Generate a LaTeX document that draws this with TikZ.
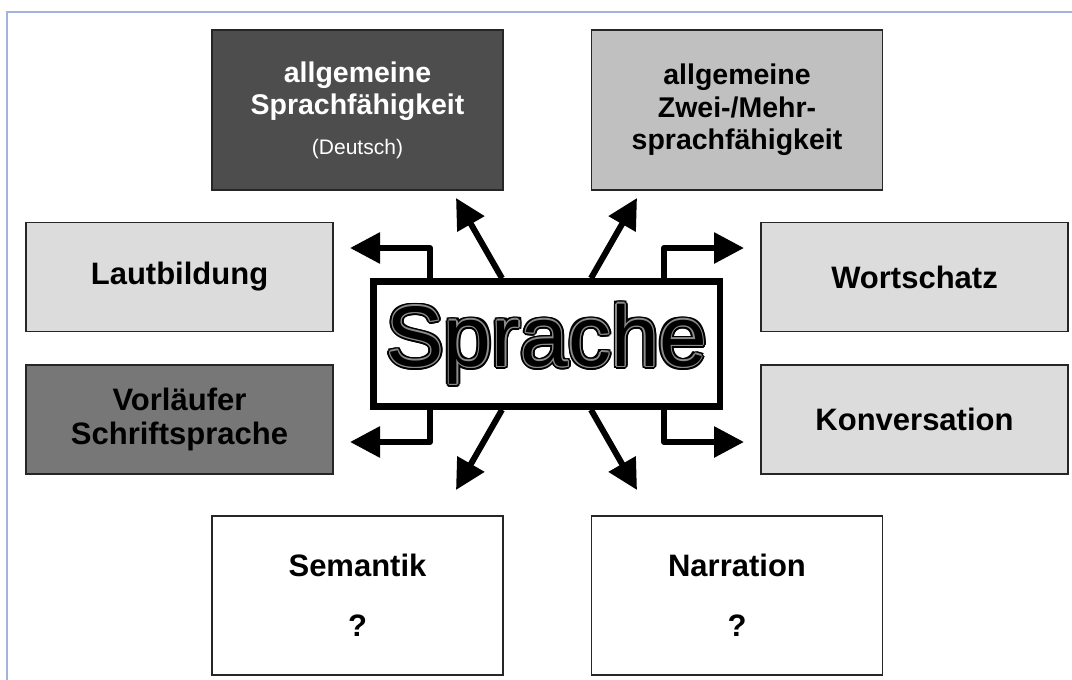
\documentclass[tikz,border=0pt]{standalone}
\usepackage{fontspec}
\setmainfont{Liberation Sans}
\usetikzlibrary{arrows.meta}
\definecolor{darkbox}{HTML}{4D4D4D}
\definecolor{midbox}{HTML}{C0C0C0}
\definecolor{lightbox}{HTML}{DCDCDC}
\definecolor{vorbox}{HTML}{777777}
\definecolor{framecol}{HTML}{A3B3DE}
\definecolor{rimgray}{HTML}{8C8C8C}
\newcommand\lab{\fontsize{31}{34}\selectfont\bfseries}
\newcommand\toplab{\fontsize{28.5}{32.5}\selectfont\bfseries}
\newcommand\sprword{%
\fontsize{86}{86}\selectfont
\foreach \a in {0,22.5,...,337.5}{\pgfmathsetmacro\dx{3.2*cos(\a)}\pgfmathsetmacro\dy{3.2*sin(\a)}\rlap{\hspace*{\dx pt}\raisebox{\dy pt}{\color{black}Sprache}}}%
\foreach \a in {0,45,...,315}{\pgfmathsetmacro\dx{1.3*cos(\a)}\pgfmathsetmacro\dy{1.3*sin(\a)}\rlap{\hspace*{\dx pt}\raisebox{\dy pt}{\color{rimgray}Sprache}}}%
{\color{black}Sprache}}
\begin{document}
\begin{tikzpicture}[x=1pt,y=-1pt,
  box/.style={draw=black!85, line width=1.2pt, inner sep=0pt, align=center, font=\lab},
  topbox/.style={box, minimum width=291pt, minimum height=160pt, font=\toplab},
  sidebox/.style={box, minimum width=307pt, minimum height=109pt},
  botbox/.style={box, minimum width=291pt, minimum height=159pt, fill=white},
  sprbox/.style={draw=black, line width=6.5pt, fill=white, inner sep=0pt, minimum width=346.5pt, minimum height=125pt},
  arr/.style={line width=6pt, line join=round, -{Triangle[length=30pt,width=30pt]}}]
\useasboundingbox (0,0) rectangle (1072,680);
\fill[white] (0,0) rectangle (1072,680);
\draw[framecol, line width=1.5pt] (7,680) -- (7,12) -- (1072,12);

% boxes
\node[topbox, fill=darkbox, text=white] (gen) at (357.5,110) {allgemeine\\Sprachfähigkeit\\[7pt]{\fontsize{21}{24}\selectfont\mdseries (Deutsch)}};
\node[topbox, fill=midbox] (zwei) at (737,110) {allgemeine\\Zwei-/Mehr-\\sprachfähigkeit};
\node[sidebox, fill=lightbox] (laut) at (179.5,277) {Lautbildung};
\node[sidebox, fill=vorbox] (vorl) at (179.5,419.5) {Vorläufer\\Schriftsprache};
\node[sidebox, fill=lightbox] (wort) at (914.5,277) {Wortschatz};
\node[sidebox, fill=lightbox] (konv) at (914.5,419.5) {Konversation};
\node[botbox] (sem) at (357.5,595.5) {Semantik\\[26pt]?};
\node[botbox] (narr) at (737,595.5) {Narration\\[26pt]?};

% central box
\node[sprbox] (spr) at (546.75,344) {\sprword};

% helper coordinates
\coordinate (xL) at (430,0);
\coordinate (xR) at (664,0);
\coordinate (dL) at (502,0);
\coordinate (dR) at (591,0);
\coordinate (tUL) at (350,248);
\coordinate (tLL) at (350,442);
\coordinate (tUR) at (744,248);
\coordinate (tLR) at (744,442);
\coordinate (aUL) at (456,198);
\coordinate (aUR) at (637,198);
\coordinate (aLL) at (456,490);
\coordinate (aLR) at (637,490);

% connectors
\draw[arr] (spr.north -| xL) |- (tUL);
\draw[arr] (spr.south -| xL) |- (tLL);
\draw[arr] (spr.north -| xR) |- (tUR);
\draw[arr] (spr.south -| xR) |- (tLR);
\draw[arr] (spr.north -| dL) -- (aUL);
\draw[arr] (spr.north -| dR) -- (aUR);
\draw[arr] (spr.south -| dL) -- (aLL);
\draw[arr] (spr.south -| dR) -- (aLR);
\end{tikzpicture}
\end{document}
